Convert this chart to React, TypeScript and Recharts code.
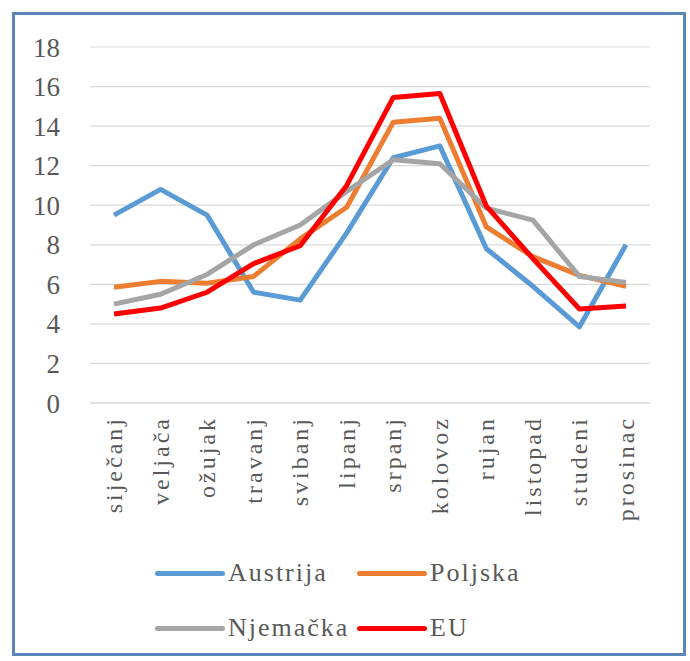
import React from 'react';
import { LineChart, Line, XAxis, YAxis, CartesianGrid } from 'recharts';

const months = ['siječanj', 'veljača', 'ožujak', 'travanj', 'svibanj', 'lipanj', 'srpanj', 'kolovoz', 'rujan', 'listopad', 'studeni', 'prosinac'];
const austrija = [9.5, 10.8, 9.5, 5.6, 5.2, 8.6, 12.4, 13.0, 7.8, 5.9, 3.85, 8.0];
const poljska = [5.85, 6.15, 6.05, 6.4, 8.3, 9.9, 14.2, 14.4, 8.9, 7.4, 6.45, 5.9];
const njemacka = [5.0, 5.5, 6.5, 8.0, 9.0, 10.7, 12.3, 12.1, 9.85, 9.25, 6.4, 6.1];
const eu = [4.5, 4.8, 5.6, 7.05, 7.95, 11.0, 15.45, 15.65, 9.95, 7.3, 4.75, 4.9];
const yTicks = [0, 2, 4, 6, 8, 10, 12, 14, 16, 18];

const series = [
  { key: 'Austrija', values: austrija, color: '#5B9BD5' },
  { key: 'Poljska', values: poljska, color: '#ED7D31' },
  { key: 'Njemačka', values: njemacka, color: '#A5A5A5' },
  { key: 'EU', values: eu, color: '#FF0000' },
];

const data = months.map((m, i) => {
  const row: any = { month: m };
  series.forEach((s) => { row[s.key] = s.values[i]; });
  return row;
});

const font = "'Liberation Serif', 'DejaVu Serif', 'Noto Serif', serif";

function MonthTick({ x, y, payload }: any) {
  return (
    <text
      x={x}
      y={y + 5}
      transform={`rotate(-90 ${x} ${y + 5})`}
      textAnchor="end"
      dominantBaseline="central"
      fill="#595959"
      style={{ fontFamily: font, fontSize: 24, letterSpacing: 3 }}
    >
      {payload.value}
    </text>
  );
}

// legend slots: [left, middle] of the swatch line
const legendPos = [
  [155, 573],
  [357, 573],
  [155, 628],
  [357, 628],
];

export default function App() {
  return (
    <div style={{ position: 'absolute', left: 0, top: 0, width: 690, height: 661, background: '#fff', fontFamily: font }}>
      <div
        style={{
          position: 'absolute',
          left: 12,
          top: 12,
          width: 668,
          height: 638,
          border: '3px solid #5b87b8',
        }}
      />
      <LineChart
        width={690}
        height={661}
        data={data}
        margin={{ top: 47, right: 40, bottom: 0, left: 0 }}
        style={{ position: 'absolute', left: 0, top: 0, fontFamily: font }}
      >
        <CartesianGrid vertical={false} stroke="#d9d9d9" strokeWidth={1.2} />
        <XAxis
          dataKey="month"
          interval={0}
          height={258}
          padding={{ left: 24, right: 24 }}
          axisLine={{ stroke: '#d9d9d9', strokeWidth: 1.2 }}
          tickLine={false}
          tick={<MonthTick />}
        />
        <YAxis
          width={90}
          domain={[0, 18]}
          ticks={yTicks}
          interval={0}
          axisLine={false}
          tickLine={false}
          tickMargin={24}
          tick={{ fill: '#595959', fontSize: 27, style: { fontFamily: font } }}
        />
        {series.map((s) => (
          <Line
            key={s.key}
            type="linear"
            dataKey={s.key}
            stroke={s.color}
            strokeWidth={5}
            strokeLinejoin="round"
            dot={false}
            activeDot={false}
            isAnimationActive={false}
          />
        ))}
      </LineChart>
      {series.map((s, i) => (
        <div
          key={s.key}
          style={{
            position: 'absolute',
            left: legendPos[i][0],
            top: legendPos[i][1] - 18,
            height: 36,
            display: 'flex',
            alignItems: 'center',
            fontFamily: font,
            fontSize: 26,
            letterSpacing: 2,
            color: '#595959',
            whiteSpace: 'nowrap',
          }}
        >
          <span
            style={{
              display: 'inline-block',
              width: 70,
              height: 5,
              borderRadius: 3,
              background: s.color,
              marginRight: 3,
            }}
          />
          {s.key}
        </div>
      ))}
    </div>
  );
}
